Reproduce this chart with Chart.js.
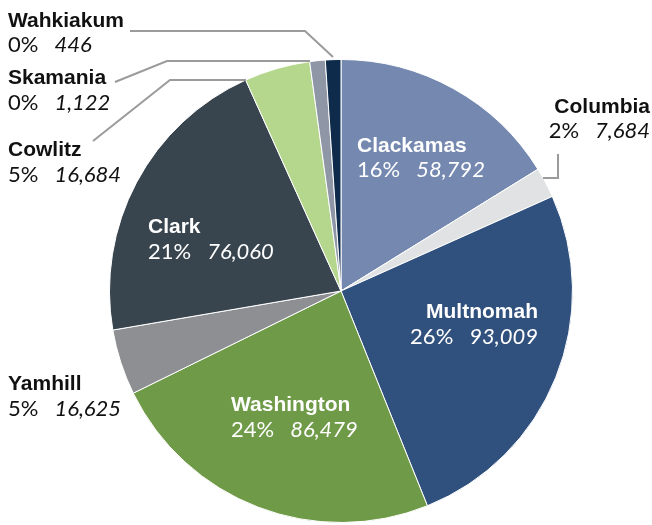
<!DOCTYPE html>
<html>
<head>
<meta charset="utf-8">
<script src="https://cdn.jsdelivr.net/npm/chart.js@4/dist/chart.umd.min.js"></script>
<style>
  body { margin: 0; background: #fff; }
  canvas { display: block; }
</style>
</head>
<body>
<canvas id="county-pie" width="652" height="525"></canvas>
<script>
// Counties, clockwise from 12 o'clock.
const counties = ['Clackamas', 'Columbia', 'Multnomah', 'Washington', 'Yamhill', 'Clark', 'Cowlitz', 'Skamania', 'Wahkiakum'];
const counts = [58792, 7684, 93009, 86479, 16625, 76060, 16684, 1122, 446];
const percents = [16, 2, 26, 24, 5, 21, 5, 0, 0];
const colors = ['#7488b0', '#e1e2e3', '#30507e', '#6f9a48', '#8e8f93', '#38444e', '#b5d78d', '#8f97a6', '#0e2b4c'];

// Tiny counties get a minimum slice so they stay visible.
const minShare = 0.011;

// Where each label sits: [x, baseline of name, baseline of numbers, align, on dark slice]
const labelLayout = {
  Clackamas: [357, 152, 177, 'left', true],
  Columbia: [650, 113, 138, 'right', false],
  Multnomah: [538, 318, 344, 'right', true],
  Washington: [231, 411, 437, 'left', true],
  Yamhill: [8, 390, 416, 'left', false],
  Clark: [148, 233, 259, 'left', true],
  Cowlitz: [8, 156, 182, 'left', false],
  Skamania: [8, 84, 110, 'left', false],
  Wahkiakum: [8, 27, 52, 'left', false],
};

// Leader lines for the outside labels.
const leaders = [
  [[130, 31], [305, 31], [333, 57]],
  [[115, 82], [167, 61], [310, 61]],
  [[93, 141], [170, 80], [246, 80]],
  [[558, 154], [558, 178], [543, 178]],
];


const fmt = (n) => n.toLocaleString('en-US');

const labelPlugin = {
  id: 'countyLabels',
  afterDraw(chart) {
    const ctx = chart.ctx;
    ctx.save();

    // leaders
    ctx.strokeStyle = '#9b9b9b';
    ctx.lineWidth = 2;
    leaders.forEach((pts) => {
      ctx.beginPath();
      pts.forEach(([x, y], i) => (i ? ctx.lineTo(x, y) : ctx.moveTo(x, y)));
      ctx.stroke();
    });

    counties.forEach((name, i) => {
      const [x, y1, y2, align, inside] = labelLayout[name];
      ctx.fillStyle = inside ? '#ffffff' : '#111111';
      ctx.textBaseline = 'alphabetic';

      const pct = percents[i] + '%';
      const num = fmt(counts[i]);
      const gap = 16;

      ctx.font = 'bold 21px "Liberation Sans", Arial, sans-serif';
      ctx.textAlign = align;
      ctx.fillText(name, x, y1);

      const pctFont = '22px Lato, "Liberation Sans", sans-serif';
      const numFont = 'italic 22px Lato, "Liberation Sans", sans-serif';
      ctx.font = pctFont;
      const wp = ctx.measureText(pct).width;
      ctx.font = numFont;
      const wn = ctx.measureText(num).width;
      const start = align === 'right' ? x - (wp + gap + wn) : x;

      ctx.textAlign = 'left';
      ctx.font = pctFont;
      ctx.fillText(pct, start, y2);
      ctx.font = numFont;
      ctx.fillText(num, start + wp + gap, y2);
    });

    ctx.restore();
  },
};


const total = counts.reduce((a, b) => a + b, 0);

new Chart(document.getElementById('county-pie'), {
  type: 'pie',
  data: {
    labels: counties,
    datasets: [{
      data: counts.map((v) => Math.max(v, total * minShare)),
      backgroundColor: colors,
      borderColor: '#ffffff',
      borderWidth: 1,
    }],
  },
  options: {
    responsive: false,
    animation: false,
    layout: { padding: { left: 109, right: 79, top: 59, bottom: 2 } },
    plugins: {
      legend: { display: false },
      tooltip: { enabled: false },
    },
  },
  plugins: [labelPlugin],
});
</script>
</body>
</html>
